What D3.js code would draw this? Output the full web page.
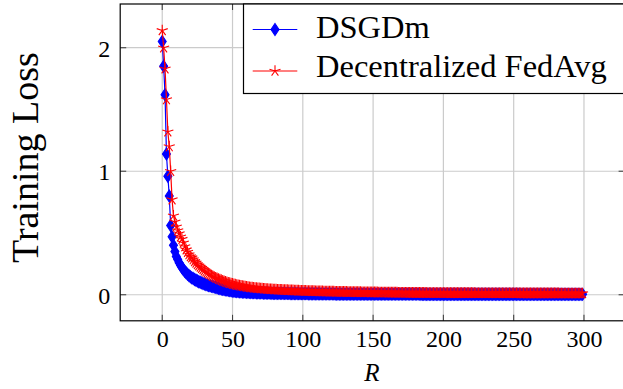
<!DOCTYPE html>
<html>
<head>
<meta charset="utf-8">
<script src="https://cdn.jsdelivr.net/npm/d3@7"></script>
<style>
  html, body { margin: 0; padding: 0; background: #fff; }
  svg { display: block; }
  text { font-family: "Liberation Serif", "Times New Roman", serif; fill: #000; }
</style>
</head>
<body>
<svg id="chart" width="623" height="389"></svg>
<script>
// communication rounds R (0..299)
const rounds = d3.range(0, 300);

// DSGDm training loss
const dsgdm = [
  2.050, 1.850, 1.620, 1.140, 0.960, 0.800, 0.560, 0.470, 0.400, 0.350,
  0.310, 0.285, 0.260, 0.238, 0.220, 0.205, 0.190, 0.177, 0.165, 0.155,
  0.146, 0.138, 0.131, 0.124, 0.118, 0.112, 0.106, 0.101, 0.096, 0.091,
  0.087, 0.083, 0.079, 0.075, 0.072, 0.069, 0.066, 0.063, 0.060, 0.057,
  0.053, 0.050, 0.047, 0.045, 0.043, 0.040, 0.038, 0.036, 0.034, 0.032,
  0.030, 0.029, 0.028, 0.027, 0.026, 0.025, 0.024, 0.023, 0.022, 0.022,
  0.021, 0.020, 0.020, 0.019, 0.019, 0.018, 0.018, 0.017, 0.017, 0.016,
  0.016, 0.016, 0.015, 0.015, 0.015, 0.014, 0.014, 0.014, 0.013, 0.013,
  0.013, 0.013, 0.012, 0.012, 0.012, 0.012, 0.011, 0.011, 0.011, 0.011,
  0.011, 0.010, 0.010, 0.010, 0.010, 0.010, 0.010, 0.009, 0.009, 0.009,
  0.009, 0.009, 0.009, 0.009, 0.008, 0.008, 0.008, 0.008, 0.008, 0.008,
  0.008, 0.008, 0.007, 0.007, 0.007, 0.007, 0.007, 0.007, 0.007, 0.007,
  0.007, 0.007, 0.007, 0.006, 0.006, 0.006, 0.006, 0.006, 0.006, 0.006,
  0.006, 0.006, 0.006, 0.006, 0.006, 0.006, 0.006, 0.006, 0.006, 0.006,
  0.006, 0.006, 0.006, 0.005, 0.005, 0.005, 0.005, 0.005, 0.005, 0.005,
  0.005, 0.005, 0.005, 0.005, 0.005, 0.005, 0.005, 0.005, 0.005, 0.005,
  0.005, 0.005, 0.005, 0.005, 0.005, 0.005, 0.005, 0.005, 0.005, 0.005,
  0.005, 0.005, 0.005, 0.005, 0.005, 0.005, 0.005, 0.005, 0.005, 0.005,
  0.005, 0.005, 0.005, 0.005, 0.004, 0.004, 0.004, 0.004, 0.004, 0.004,
  0.004, 0.004, 0.004, 0.004, 0.004, 0.004, 0.004, 0.004, 0.004, 0.004,
  0.004, 0.004, 0.004, 0.004, 0.004, 0.004, 0.004, 0.004, 0.004, 0.004,
  0.004, 0.004, 0.004, 0.004, 0.004, 0.004, 0.004, 0.004, 0.004, 0.004,
  0.004, 0.004, 0.004, 0.004, 0.004, 0.004, 0.004, 0.004, 0.004, 0.004,
  0.004, 0.004, 0.004, 0.004, 0.004, 0.004, 0.004, 0.004, 0.004, 0.004,
  0.004, 0.004, 0.004, 0.004, 0.004, 0.004, 0.004, 0.004, 0.004, 0.004,
  0.004, 0.004, 0.004, 0.004, 0.004, 0.003, 0.003, 0.003, 0.003, 0.003,
  0.003, 0.003, 0.003, 0.003, 0.003, 0.003, 0.003, 0.003, 0.003, 0.003,
  0.003, 0.003, 0.003, 0.003, 0.003, 0.003, 0.003, 0.003, 0.003, 0.003,
  0.003, 0.003, 0.003, 0.003, 0.003, 0.003, 0.003, 0.003, 0.003, 0.003,
  0.003, 0.003, 0.003, 0.003, 0.003, 0.003, 0.003, 0.003, 0.003, 0.003
];

// Decentralized FedAvg training loss
const fedavg = [
  2.140, 2.000, 1.830, 1.580, 1.320, 1.200, 1.000, 0.770, 0.640, 0.590,
  0.550, 0.520, 0.495, 0.470, 0.450, 0.420, 0.390, 0.365, 0.345, 0.325,
  0.310, 0.300, 0.285, 0.270, 0.258, 0.245, 0.235, 0.225, 0.215, 0.205,
  0.195, 0.186, 0.178, 0.170, 0.163, 0.156, 0.150, 0.144, 0.138, 0.133,
  0.128, 0.123, 0.118, 0.113, 0.109, 0.105, 0.101, 0.097, 0.094, 0.091,
  0.088, 0.085, 0.082, 0.079, 0.076, 0.074, 0.072, 0.070, 0.068, 0.066,
  0.064, 0.062, 0.061, 0.059, 0.058, 0.056, 0.055, 0.054, 0.053, 0.052,
  0.051, 0.050, 0.049, 0.048, 0.047, 0.046, 0.045, 0.045, 0.044, 0.043,
  0.042, 0.042, 0.041, 0.040, 0.040, 0.039, 0.038, 0.038, 0.037, 0.037,
  0.036, 0.036, 0.035, 0.035, 0.034, 0.034, 0.033, 0.033, 0.032, 0.032,
  0.032, 0.031, 0.031, 0.030, 0.030, 0.030, 0.029, 0.029, 0.029, 0.028,
  0.028, 0.028, 0.027, 0.027, 0.027, 0.026, 0.026, 0.026, 0.026, 0.025,
  0.025, 0.025, 0.025, 0.024, 0.024, 0.024, 0.024, 0.023, 0.023, 0.023,
  0.023, 0.023, 0.022, 0.022, 0.022, 0.022, 0.022, 0.021, 0.021, 0.021,
  0.021, 0.021, 0.020, 0.020, 0.020, 0.020, 0.020, 0.020, 0.019, 0.019,
  0.019, 0.019, 0.019, 0.019, 0.018, 0.018, 0.018, 0.018, 0.018, 0.018,
  0.018, 0.017, 0.017, 0.017, 0.017, 0.017, 0.017, 0.017, 0.016, 0.016,
  0.016, 0.016, 0.016, 0.016, 0.016, 0.016, 0.015, 0.015, 0.015, 0.015,
  0.015, 0.015, 0.015, 0.015, 0.015, 0.015, 0.015, 0.015, 0.014, 0.014,
  0.014, 0.014, 0.014, 0.014, 0.014, 0.014, 0.014, 0.014, 0.014, 0.014,
  0.014, 0.014, 0.014, 0.014, 0.013, 0.013, 0.013, 0.013, 0.013, 0.013,
  0.013, 0.013, 0.013, 0.013, 0.013, 0.013, 0.013, 0.013, 0.013, 0.013,
  0.013, 0.013, 0.013, 0.012, 0.012, 0.012, 0.012, 0.012, 0.012, 0.012,
  0.012, 0.012, 0.012, 0.012, 0.012, 0.012, 0.012, 0.012, 0.012, 0.012,
  0.012, 0.012, 0.012, 0.012, 0.012, 0.012, 0.012, 0.012, 0.012, 0.012,
  0.012, 0.012, 0.012, 0.012, 0.012, 0.011, 0.011, 0.011, 0.011, 0.011,
  0.011, 0.011, 0.011, 0.011, 0.011, 0.011, 0.011, 0.011, 0.011, 0.011,
  0.011, 0.011, 0.011, 0.011, 0.011, 0.011, 0.011, 0.011, 0.011, 0.011,
  0.011, 0.011, 0.011, 0.010, 0.010, 0.010, 0.010, 0.010, 0.010, 0.010,
  0.010, 0.010, 0.010, 0.010, 0.010, 0.010, 0.010, 0.010, 0.010, 0.010
];

const seriesNames = ['DSGDm', 'Decentralized FedAvg'];
const xTicks = [0, 50, 100, 150, 200, 250, 300];
const yTicks = [0, 1, 2];

const svg = d3.select('#chart');

// plot box (right edge falls just outside the picture, as in the original)
const box = { left: 120.2, right: 624.6, top: 4.0, bottom: 320.8 };

const x = d3.scaleLinear().domain([-29.9, 328.9]).range([box.left, box.right]);
const y = d3.scaleLinear().domain([-0.211, 2.354]).range([box.bottom, box.top]);

const gridColor = '#cbcbcb';
const tickLen = 6;

// grid
const grid = svg.append('g').attr('class', 'grid');
grid.selectAll('.gx')
    .data(xTicks)
    .enter().append('line')
    .attr('x1', d => x(d)).attr('x2', d => x(d))
    .attr('y1', box.top).attr('y2', box.bottom)
    .attr('stroke', gridColor).attr('stroke-width', 1.2);
grid.selectAll('.gy')
    .data(yTicks)
    .enter().append('line')
    .attr('x1', box.left).attr('x2', box.right)
    .attr('y1', d => y(d)).attr('y2', d => y(d))
    .attr('stroke', gridColor).attr('stroke-width', 1.2);

// tick marks drawn inwards on every side, pgfplots style
const ticks = svg.append('g').attr('stroke', '#444').attr('stroke-width', 1.1);
xTicks.forEach(t => {
    ticks.append('line').attr('x1', x(t)).attr('x2', x(t))
        .attr('y1', box.bottom).attr('y2', box.bottom - tickLen);
    ticks.append('line').attr('x1', x(t)).attr('x2', x(t))
        .attr('y1', box.top).attr('y2', box.top + tickLen);
});
yTicks.forEach(t => {
    ticks.append('line').attr('x1', box.left).attr('x2', box.left + tickLen)
        .attr('y1', y(t)).attr('y2', y(t));
    ticks.append('line').attr('x1', box.right).attr('x2', box.right - tickLen)
        .attr('y1', y(t)).attr('y2', y(t));
});

// tick labels through d3 axes, with the domain path and tick lines removed
const xAxis = svg.append('g')
    .attr('transform', 'translate(0,' + box.bottom + ')')
    .call(d3.axisBottom(x).tickValues(xTicks).tickSize(0).tickPadding(0).tickFormat(d3.format('d')));
xAxis.select('.domain').remove();
xAxis.selectAll('text')
    .attr('y', 26).attr('dy', null)
    .style('font-family', '"Liberation Serif", serif')
    .style('font-size', '24px');

const yAxis = svg.append('g')
    .attr('transform', 'translate(' + box.left + ',0)')
    .call(d3.axisLeft(y).tickValues(yTicks).tickSize(0).tickPadding(0).tickFormat(d3.format('d')));
yAxis.select('.domain').remove();
yAxis.selectAll('text')
    .attr('x', -10).attr('dy', '0.36em')
    .style('font-family', '"Liberation Serif", serif')
    .style('font-size', '24px');

// series
const diamond = 'M0,-6L4,0L0,6L-4,0Z';
const starPath = (r) => {
    let p = '';
    for (let k = 0; k < 5; k++) {
        const a = -Math.PI / 2 + k * 2 * Math.PI / 5;
        p += 'M0,0L' + (r * Math.cos(a)).toFixed(2) + ',' + (r * Math.sin(a)).toFixed(2);
    }
    return p;
};
const star = starPath(5.8);

const line = d3.line()
    .x(d => x(d[0]))
    .y(d => y(d[1]));

const blueData = rounds.map((r, i) => [r, dsgdm[i]]);
const redData = rounds.map((r, i) => [r, fedavg[i]]);

function drawSeries(data, color, mark, filled) {
    const g = svg.append('g');
    g.append('path')
        .datum(data)
        .attr('d', line)
        .attr('fill', 'none')
        .attr('stroke', color)
        .attr('stroke-width', 1.2);
    g.selectAll('.mk')
        .data(data)
        .enter().append('path')
        .attr('class', 'mk')
        .attr('transform', d => 'translate(' + x(d[0]) + ',' + y(d[1]) + ')')
        .attr('d', mark)
        .attr('fill', filled ? color : 'none')
        .attr('stroke', color)
        .attr('stroke-width', 1.1);
}

drawSeries(blueData, '#0000ff', diamond, true);
drawSeries(redData, '#ff0000', star, false);

// axis frame
svg.append('rect')
    .attr('x', box.left).attr('y', box.top)
    .attr('width', box.right - box.left).attr('height', box.bottom - box.top)
    .attr('fill', 'none').attr('stroke', '#000').attr('stroke-width', 1.2);

// legend
const legend = svg.append('g');
legend.append('rect')
    .attr('x', 243.5).attr('y', box.top)
    .attr('width', box.right - 243.5).attr('height', 89.5)
    .attr('fill', '#fff').attr('stroke', '#000').attr('stroke-width', 1.2);

const legendRows = [
    { name: seriesNames[0], color: '#0000ff', mark: diamond, filled: true, cy: 29.5, base: 38 },
    { name: seriesNames[1], color: '#ff0000', mark: star, filled: false, cy: 71, base: 77 }
];
legendRows.forEach(r => {
    legend.append('line')
        .attr('x1', 252.7).attr('x2', 297.3)
        .attr('y1', r.cy).attr('y2', r.cy)
        .attr('stroke', r.color).attr('stroke-width', 1.2);
    legend.append('path')
        .attr('transform', 'translate(275,' + r.cy + ')')
        .attr('d', r.mark)
        .attr('fill', r.filled ? r.color : 'none')
        .attr('stroke', r.color).attr('stroke-width', 1.1);
    legend.append('text')
        .attr('x', 316).attr('y', r.base)
        .style('font-size', '32.5px')
        .text(r.name);
});

// axis labels
svg.append('text')
    .attr('transform', 'translate(38,157.5) rotate(-90)')
    .attr('text-anchor', 'middle')
    .style('font-size', '38px')
    .text('Training Loss');

svg.append('text')
    .attr('x', 372).attr('y', 381)
    .attr('text-anchor', 'middle')
    .style('font-size', '25px')
    .style('font-style', 'italic')
    .text('R');
</script>
</body>
</html>
